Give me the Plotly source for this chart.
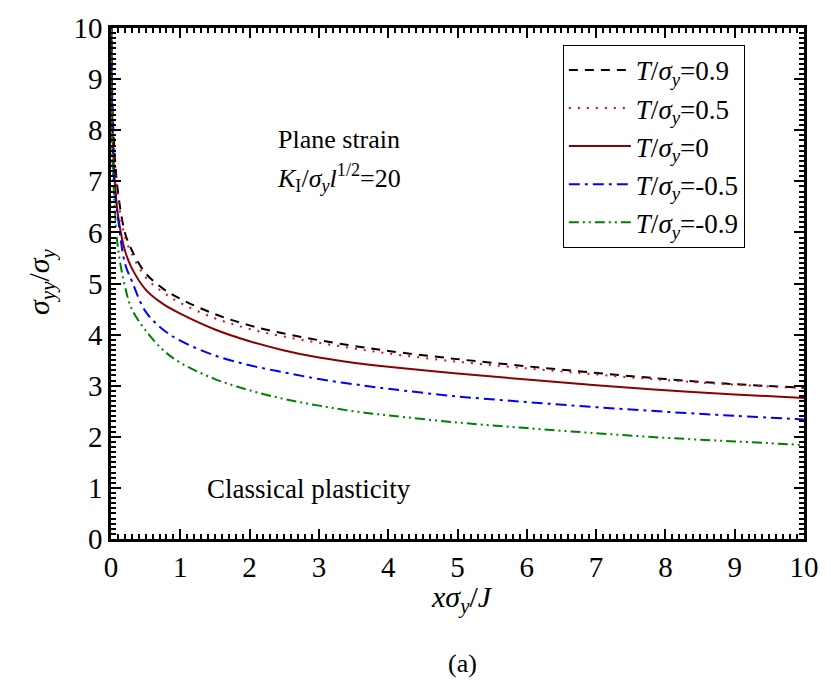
import plotly.graph_objects as go

# ---- data ----
x_vals = [0.002, 0.02, 0.05, 0.1, 0.2, 0.3, 0.5, 0.75, 1.0, 1.5, 2.0, 2.5, 3.0, 3.5,
          4.0, 5.0, 6.0, 7.0, 8.0, 9.0, 10.0]

t_p09 = [11.0, 8.6, 7.6, 6.8, 6.0, 5.65, 5.2, 4.90, 4.70, 4.40, 4.18, 4.02, 3.89, 3.78,
         3.68, 3.52, 3.38, 3.25, 3.13, 3.03, 2.96]
t_p05 = [11.0, 8.5, 7.5, 6.7, 5.92, 5.58, 5.12, 4.83, 4.62, 4.32, 4.11, 3.96, 3.84, 3.73,
         3.63, 3.47, 3.34, 3.22, 3.11, 3.02, 2.95]
t_0 = [11.0, 8.2, 7.1, 6.35, 5.65, 5.3, 4.88, 4.60, 4.41, 4.10, 3.87, 3.69, 3.55, 3.45,
       3.37, 3.24, 3.12, 3.01, 2.91, 2.83, 2.76]
t_m05 = [11.0, 7.9, 6.9, 6.3, 5.4, 5.05, 4.45, 4.10, 3.88, 3.59, 3.40, 3.26, 3.13, 3.03,
         2.94, 2.79, 2.68, 2.58, 2.49, 2.41, 2.34]
t_m09 = [11.0, 7.5, 6.6, 5.7, 4.95, 4.5, 4.08, 3.70, 3.45, 3.13, 2.91, 2.74, 2.61, 2.50,
         2.42, 2.28, 2.17, 2.07, 1.98, 1.91, 1.84]

series_names = [
    "<i>T</i>/<i>σ</i><sub><i>y</i></sub>=0.9",
    "<i>T</i>/<i>σ</i><sub><i>y</i></sub>=0.5",
    "<i>T</i>/<i>σ</i><sub><i>y</i></sub>=0",
    "<i>T</i>/<i>σ</i><sub><i>y</i></sub>=-0.5",
    "<i>T</i>/<i>σ</i><sub><i>y</i></sub>=-0.9",
]
series_vals = [t_p09, t_p05, t_0, t_m05, t_m09]
colors = ["#000000", "#FF0000", "#8B0000", "#0000FF", "#008000"]
dashes = ["9px,7px", "2px,7px", "solid", "11px,5px,3px,5px", "10px,4px,2px,4px,2px,4px"]

tick_vals = list(range(0, 11))
tick_text = [str(v) for v in tick_vals]

FONT = "Liberation Serif, Times New Roman, serif"

fig = go.Figure()
for name, vals, c, d in zip(series_names, series_vals, colors, dashes):
    fig.add_trace(go.Scatter(x=x_vals, y=vals, mode="lines", name=name,
                             line=dict(color=c, width=2, dash=d, shape="spline", smoothing=1.0)))

axis_common = dict(
    showline=True, linecolor="black", linewidth=2.5, mirror="allticks",
    ticks="inside", ticklen=10, tickwidth=2, tickcolor="black",
    range=[0, 10], tickvals=tick_vals, ticktext=tick_text,
    showgrid=False, zeroline=False,
    tickfont=dict(family=FONT, size=29, color="black"),
    minor=dict(ticks="inside", ticklen=5, tickwidth=1.5, tickcolor="black", dtick=0.1, showgrid=False),
)

fig.update_xaxes(**axis_common)
fig.update_yaxes(**axis_common)

fig.update_layout(
    width=831, height=686,
    margin=dict(l=111, r=18, t=20, b=147),
    plot_bgcolor="white", paper_bgcolor="white",
    font=dict(family=FONT, color="black"),
    showlegend=True,
    legend=dict(x=0.652, y=0.967, xanchor="left", yanchor="top",
                bgcolor="white", bordercolor="black", borderwidth=1,
                font=dict(family=FONT, size=27, color="black"),
                itemwidth=62, tracegroupgap=0),
)

ann_font = dict(family=FONT, size=26, color="black")
fig.add_annotation(x=3.29, y=7.82, xref="x", yref="y", text="Plane strain",
                   showarrow=False, font=ann_font)
fig.add_annotation(x=3.29, y=7.07, xref="x", yref="y",
                   text="<i>K</i><sub>I</sub>/<i>σ</i><sub><i>y</i></sub><i>l</i><sup>1/2</sup>=20",
                   showarrow=False, font=ann_font)
fig.add_annotation(x=2.85, y=0.98, xref="x", yref="y", text="Classical plasticity",
                   showarrow=False, font=dict(family=FONT, size=27, color="black"))

fig.add_annotation(x=0.507, y=-0.1175, xref="paper", yref="paper",
                   text="<i>xσ</i><sub><i>y</i></sub>/<i>J</i>", showarrow=False,
                   font=dict(family=FONT, size=30, color="black"), yanchor="middle")
fig.add_annotation(x=-0.101, y=0.503, xref="paper", yref="paper",
                   text="<i>σ</i><sub><i>yy</i></sub>/<i>σ</i><sub><i>y</i></sub>", showarrow=False,
                   textangle=-90, font=dict(family=FONT, size=30, color="black"),
                   xanchor="center", yanchor="middle")
fig.add_annotation(x=0.507, y=-0.243, xref="paper", yref="paper", text="(a)",
                   showarrow=False, font=dict(family=FONT, size=26, color="black"),
                   yanchor="middle")

fig.write_html("out.html")
